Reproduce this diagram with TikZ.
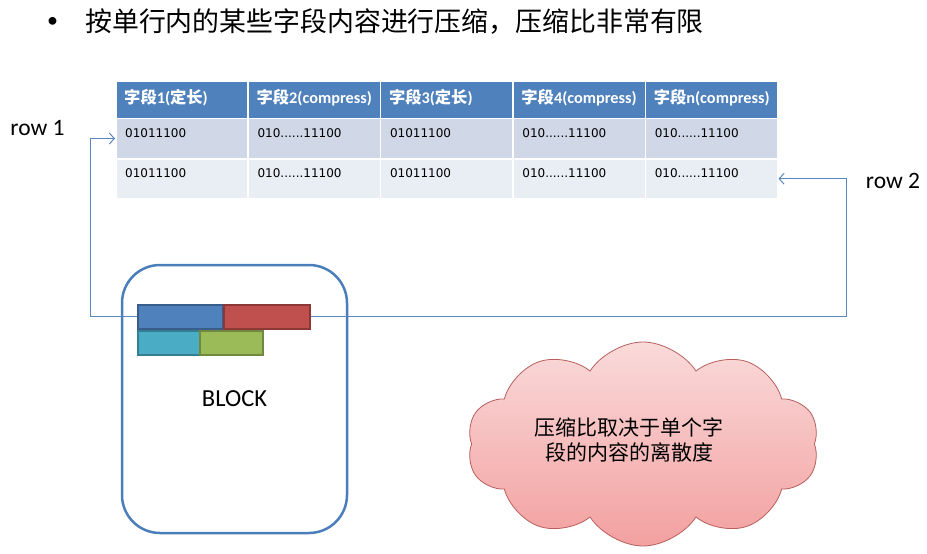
\documentclass[tikz,border=0pt]{standalone}
\usepackage{fontspec}
\setmainfont{Carlito}
\newfontfamily\cjk{Noto Sans CJK SC}
\newfontfamily\dv{DejaVu Sans}
\usetikzlibrary{arrows.meta,shapes.symbols}
\newcommand\sixdots{......}
\definecolor{hblue}{HTML}{4F81BD}
\definecolor{rowA}{HTML}{D0D8E8}
\definecolor{rowB}{HTML}{E9EDF4}
\definecolor{lblue}{HTML}{5B87BF}
\definecolor{bblue}{HTML}{4A7EBB}
\definecolor{cA}{HTML}{4F81BD}\definecolor{cAd}{HTML}{385D8A}
\definecolor{cB}{HTML}{C0504D}\definecolor{cBd}{HTML}{8C3836}
\definecolor{cC}{HTML}{4BACC6}\definecolor{cCd}{HTML}{357D91}
\definecolor{cD}{HTML}{9BBB59}\definecolor{cDd}{HTML}{71893F}
\definecolor{cloudtop}{HTML}{FADADA}
\definecolor{cloudbot}{HTML}{F3A0A0}
\definecolor{cloudline}{HTML}{B65F5C}
\tikzset{
  cell/.style={draw=white, line width=1.5pt, anchor=north west, minimum width=132.4pt, inner sep=0pt},
  hdr/.style={cell, fill=hblue, minimum height=37.5pt},
  rowa/.style={cell, fill=rowA, minimum height=40.5pt},
  rowb/.style={cell, fill=rowB, minimum height=40pt},
  htxt/.style={anchor=west, text=white, inner sep=0pt, font=\fontsize{16.3}{19}\selectfont\bfseries},
  dtxt/.style={anchor=west, inner sep=0pt, font=\dv\fontsize{12}{14}\selectfont},
  link/.style={draw=lblue, line width=1pt, -{Straight Barb[length=5pt,width=11pt]}},
  bar/.style={line width=2pt, anchor=north west, inner sep=0pt, minimum height=24pt},
  lbl/.style={inner sep=0pt, font=\fontsize{23.5}{27}\selectfont},
}
\begin{document}
\begin{tikzpicture}[x=1pt,y=-1pt]
\useasboundingbox (0,0) rectangle (927,554);
% title
\node[anchor=west, inner sep=0pt, font=\fontsize{22}{26}\selectfont] (bullet) at (47,22) {•};
\node[anchor=west, inner sep=0pt, font=\cjk\fontsize{26.9}{30}\selectfont] (title) at (85,22) {按单行内的某些字段内容进行压缩，压缩比非常有限};
% table
\foreach \h/\d [count=\c] in {%
  {{\cjk\bfseries 字段}1({\cjk\bfseries 定长})}/01011100,
  {{\cjk\bfseries 字段}2(compress)}/{010\sixdots11100},
  {{\cjk\bfseries 字段}3({\cjk\bfseries 定长})}/01011100,
  {{\cjk\bfseries 字段}4(compress)}/{010\sixdots11100},
  {{\cjk\bfseries 字段}n(compress)}/{010\sixdots11100}}{
  \pgfmathsetmacro\xx{115+(\c-1)*132.4}
  \node[hdr] (h\c) at (\xx,80) {};
  \node[rowa] (a\c) at (\xx,117.5) {};
  \node[rowb] (b\c) at (\xx,158) {};
  \node[htxt] (ht\c) at (\xx+9,97.5) {\h};
  \node[dtxt] (at\c) at (\xx+10,133.5) {\d};
  \node[dtxt] (bt\c) at (\xx+10,173.5) {\d};
}
% row labels
\node[lbl] (row1) at (37.5,128) {row 1};
\node[lbl] (row2) at (893,181) {row 2};
% block
\node[draw=bblue, line width=2.5pt, rounded corners=38pt, minimum width=225pt, minimum height=268pt, inner sep=0pt, font=\fontsize{24.5}{28}\selectfont] (block) at (234.5,399) {BLOCK};
% connectors
\draw[link] (137,316) -- (90,316) |- (a1.west);
\draw[link] (309,316) -- (846,316) |- (b5.east);
% bars
\node[bar, fill=cA, draw=cAd, minimum width=85pt] (bA) at (137,304) {};
\node[bar, fill=cB, draw=cBd, minimum width=86pt] (bB) at (223,304) {};
\node[bar, fill=cC, draw=cCd, minimum width=62pt] (bC) at (137,330) {};
\node[bar, fill=cD, draw=cDd, minimum width=63pt] (bD) at (199,330) {};
% cloud
\node[cloud, cloud puffs=10, cloud puff arc=115, aspect=1.75, minimum width=352pt, minimum height=204pt, draw=cloudline, line width=0.8pt, top color=cloudtop, bottom color=cloudbot, inner sep=0pt] (cloud) at (643,444) {};
\node[align=center, inner sep=0pt, font=\cjk\fontsize{21}{25}\selectfont] (ctext) at (629,440) {压缩比取决于单个字\\段的内容的离散度};
\end{tikzpicture}
\end{document}
